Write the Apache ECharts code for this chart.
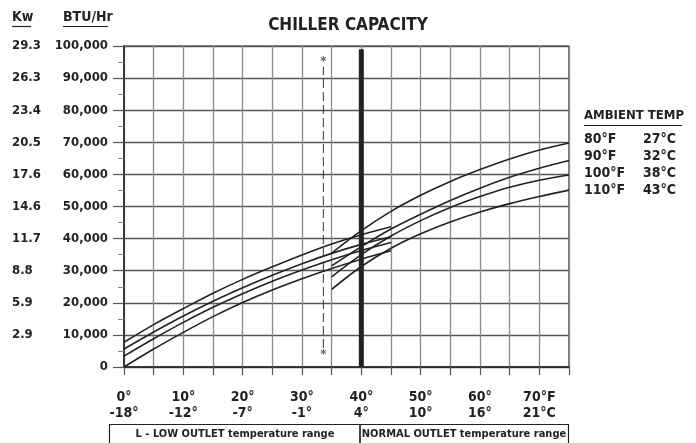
<!DOCTYPE html>
<html>
<head>
<meta charset="utf-8">
<script src="https://cdn.jsdelivr.net/npm/echarts@6/dist/echarts.min.js"></script>
<style>
html,body{margin:0;padding:0;background:#fff;}
#c{width:696px;height:443px;}
</style>
</head>
<body>
<div id="c"></div>
<script>
// ---- data ----
const ambientF = ['80°F', '90°F', '100°F', '110°F'];
const ambientC = ['27°C', '32°C', '38°C', '43°C'];
const xTickF = ['0°', '10°', '20°', '30°', '40°', '50°', '60°', '70°F'];
const xTickC = ['-18°', '-12°', '-7°', '-1°', '4°', '10°', '16°', '21°C'];
const kwLabels = ['', '2.9', '5.9', '8.8', '11.7', '14.6', '17.6', '20.5', '23.4', '26.3', '29.3'];

// LOW outlet range (°F outlet temperature)
const lowX = [0, 5, 10, 15, 20, 25, 30, 35, 40, 45];
const low80 = [7700, 13200, 18200, 23000, 27300, 31200, 34900, 38300, 41200, 43700];
const low90 = [5600, 10900, 15900, 20500, 24700, 28600, 32200, 35400, 38200, 40600];
const low100 = [3400, 8800, 13900, 18600, 22800, 26700, 30200, 33400, 36300, 38800];
const low110 = [0, 5600, 10800, 15700, 20100, 24000, 27500, 30700, 33600, 36200];

// NORMAL outlet range
const normX = [35, 40, 45, 50, 55, 60, 65, 70, 75];
const norm80 = [35500, 42500, 48500, 53500, 57800, 61500, 64800, 67600, 69800];
const norm90 = [31500, 37500, 43000, 47600, 51900, 55700, 59100, 61900, 64300];
const norm100 = [28100, 35000, 40800, 45600, 49700, 53100, 56000, 58200, 59800];
const norm110 = [24200, 31300, 37000, 41500, 45200, 48300, 50900, 53100, 55100];

// reference lines
const divideX = 40;
const divideY = [0, 99000];
const freezeX = 33.6;
const freezeY = [5900, 93500];
const starY = [95000, 4000];

const FONT = '"Liberation Sans Narrow","DejaVu Sans Condensed","Open Sans",sans-serif';
const INK = '#222';

const lows = [low80, low90, low100, low110];
const norms = [norm80, norm90, norm100, norm110];

const series = [];
lows.forEach((arr, i) => {
  series.push({
    name: ambientF[i], type: 'line', smooth: 0.3, symbol: 'none',
    lineStyle: { color: INK, width: 1.6 }, itemStyle: { color: INK },
    data: lowX.map((x, j) => [x, arr[j]])
  });
});
norms.forEach((arr, i) => {
  series.push({
    name: ambientF[i], type: 'line', smooth: 0.3, symbol: 'none',
    lineStyle: { color: INK, width: 1.6 }, itemStyle: { color: INK },
    data: normX.map((x, j) => [x, arr[j]])
  });
});
series.push({
  name: 'divide', type: 'line', symbol: 'none', silent: true,
  lineStyle: { color: INK, width: 5 },
  data: divideY.map(y => [divideX, y])
});
series.push({
  name: 'freeze', type: 'line', symbol: 'none', silent: true,
  lineStyle: { color: '#333', width: 1, type: [9, 4] },
  data: freezeY.map(y => [freezeX, y])
});
series.push({
  name: 'stars', type: 'scatter', symbolSize: 0, silent: true,
  label: { show: true, position: 'inside', formatter: '*', color: '#333',
           fontSize: 13, fontWeight: 'bold', fontFamily: FONT },
  data: starY.map(y => [freezeX, y])
});

const chart = echarts.init(document.getElementById('c'), null, { renderer: 'canvas' });
chart.setOption({
  animation: false,
  backgroundColor: '#fff',
  title: {
    text: 'CHILLER CAPACITY', left: 343, top: 12, textAlign: 'center',
    textStyle: { fontFamily: FONT, fontSize: 17, fontWeight: 'bold', color: INK }
  },
  legend: {
    data: ambientF, orient: 'vertical', left: 579, top: 132, padding: 0,
    icon: 'none', itemWidth: 0, itemHeight: 12, itemGap: 3,
    selectedMode: false,
    formatter: name => `{f|${name}}{c|${ambientC[ambientF.indexOf(name)]}}`,
    textStyle: {
      fontFamily: FONT, fontSize: 14, fontWeight: 'bold', color: INK,
      rich: {
        f: { width: 59, fontFamily: FONT, fontSize: 14, fontWeight: 'bold', color: INK },
        c: { fontFamily: FONT, fontSize: 14, fontWeight: 'bold', color: INK }
      }
    }
  },
  grid: {
    left: 124, right: 127, top: 46, bottom: 76,
    show: true, borderColor: INK, borderWidth: 1.2
  },
  xAxis: {
    type: 'value', min: 0, max: 75, interval: 5,
    axisLine: { show: true, lineStyle: { color: INK, width: 1.5 } },
    axisTick: { show: true, length: 8, lineStyle: { color: '#555', width: 1.2 } },
    splitLine: { show: true, lineStyle: { color: '#8a8a8a', width: 1.3 } },
    axisLabel: {
      margin: 22, lineHeight: 16, fontFamily: FONT, fontSize: 14, fontWeight: 'bold', color: INK,
      formatter: v => (v % 10 === 0 ? xTickF[v / 10] + '\n' + xTickC[v / 10] : '')
    }
  },
  yAxis: [
    {
      type: 'value', min: 0, max: 100000, interval: 10000,
      axisLine: { show: true, lineStyle: { color: INK, width: 1.5 } },
      axisTick: { show: true, length: 11, lineStyle: { color: '#555', width: 1.2 } },
      minorTick: { show: true, splitNumber: 2, length: 6, lineStyle: { color: '#888', width: 1 } },
      splitLine: { show: true, lineStyle: { color: '#555', width: 1.3 } },
      axisLabel: {
        margin: 16, fontFamily: FONT, fontSize: 13, fontWeight: 'bold', color: INK,
        formatter: v => v.toLocaleString('en-US')
      }
    },
    {
      type: 'value', min: 0, max: 100000, interval: 10000, position: 'left',
      axisLine: { show: false }, axisTick: { show: false }, splitLine: { show: false },
      axisLabel: {
        margin: 112, align: 'left', fontFamily: FONT, fontSize: 13, fontWeight: 'bold', color: INK,
        formatter: (v) => kwLabels[Math.round(v / 10000)]
      }
    }
  ],
  graphic: [
    { type: 'text', left: 12, top: 10, style: { text: 'Kw', fontFamily: FONT, fontSize: 14, fontWeight: 'bold', fill: INK } },
    { type: 'line', shape: { x1: 12, y1: 26.5, x2: 31, y2: 26.5 }, style: { stroke: INK, lineWidth: 1.2 } },
    { type: 'text', left: 63, top: 10, style: { text: 'BTU/Hr', fontFamily: FONT, fontSize: 14, fontWeight: 'bold', fill: INK } },
    { type: 'line', shape: { x1: 63, y1: 26.5, x2: 108, y2: 26.5 }, style: { stroke: INK, lineWidth: 1.2 } },
    { type: 'text', left: 584, top: 109, style: { text: 'AMBIENT TEMP', fontFamily: FONT, fontSize: 13, fontWeight: 'bold', fill: INK } },
    { type: 'line', shape: { x1: 584, y1: 125.5, x2: 682, y2: 125.5 }, style: { stroke: INK, lineWidth: 1.2 } },
    { type: 'rect', shape: { x: 109.5, y: 424.5, width: 250.5, height: 30 }, style: { fill: 'none', stroke: INK, lineWidth: 1.2 } },
    { type: 'rect', shape: { x: 360, y: 424.5, width: 208.5, height: 30 }, style: { fill: 'none', stroke: INK, lineWidth: 1.2 } },
    { type: 'text', x: 235, y: 434, style: { text: 'L - LOW OUTLET temperature range', align: 'center', verticalAlign: 'middle', fontFamily: FONT, fontSize: 11, fontWeight: 'bold', fill: INK } },
    { type: 'text', x: 464, y: 434, style: { text: 'NORMAL OUTLET temperature range', align: 'center', verticalAlign: 'middle', fontFamily: FONT, fontSize: 11, fontWeight: 'bold', fill: INK } }
  ],
  series: series
});
</script>
</body>
</html>
